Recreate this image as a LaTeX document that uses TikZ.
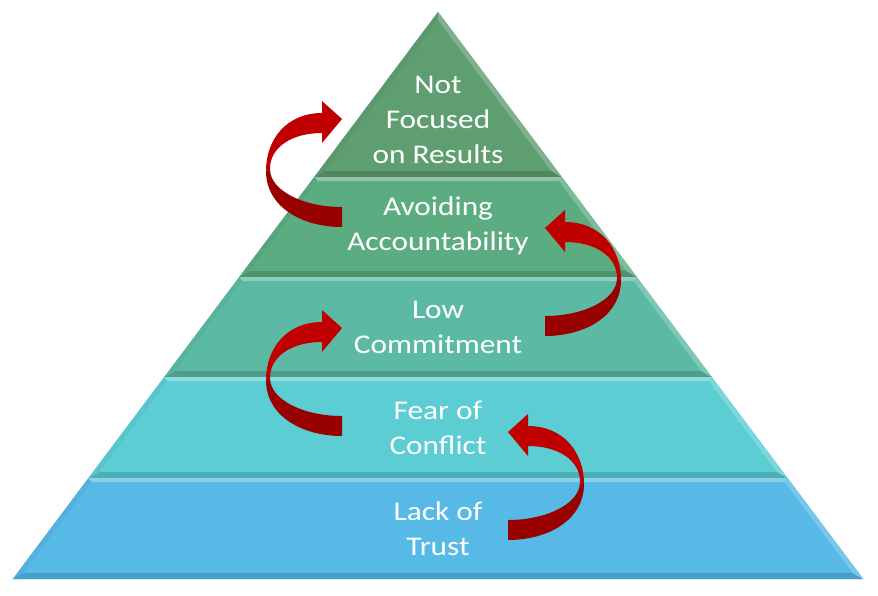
\documentclass[tikz,border=0pt]{standalone}
\usepackage{fontspec}
\setmainfont{Carlito}[FakeStretch=1.16]
\definecolor{tA}{RGB}{95,158,112}
\definecolor{tB}{RGB}{92,172,130}
\definecolor{tC}{RGB}{92,186,164}
\definecolor{tD}{RGB}{91,205,211}
\definecolor{tE}{RGB}{87,185,230}
\definecolor{arrUp}{RGB}{192,0,0}
\definecolor{arrDn}{RGB}{153,0,0}
\newcommand\pyrtier[4]{%
 \pgfmathsetmacro\pa{438-0.75*(#1-12)}%
 \pgfmathsetmacro\pb{438+0.75*(#1-12)}%
 \pgfmathsetmacro\pc{438-0.75*(#2-12)}%
 \pgfmathsetmacro\pd{438+0.75*(#2-12)}%
 \pgfmathsetmacro\qt{#4}%
 \pgfmathsetmacro\qb{#2-6}%
 \pgfmathsetmacro\qa{438-0.75*(\qt-12)+6}%
 \pgfmathsetmacro\qbb{438+0.75*(\qt-12)-6}%
 \pgfmathsetmacro\qc{438-0.75*(\qb-12)+6}%
 \pgfmathsetmacro\qd{438+0.75*(\qb-12)-6}%
 \fill[#3] (\pa,#1) -- (\pb,#1) -- (\pd,#2) -- (\pc,#2) -- cycle;
 \fill[#3!70!white] (\pa,#1) -- (\pb,#1) -- (\qbb,\qt) -- (\qa,\qt) -- cycle;
 \fill[#3!85!black] (\pc,#2) -- (\pd,#2) -- (\qd,\qb) -- (\qc,\qb) -- cycle;
 \fill[#3!96!black] (\pa,#1) -- (\qa,\qt) -- (\qc,\qb) -- (\pc,#2) -- cycle;
 \fill[#3!80!white] (\pb,#1) -- (\qbb,\qt) -- (\qd,\qb) -- (\pd,#2) -- cycle;
}
\newcommand\redarrow{%
 \fill[arrDn] (-76,52) .. controls (-76,88) and (-40,108) .. (0,108) -- (0,88) .. controls (-38,88) and (-72,72) .. (-72,50) -- cycle;
 \fill[arrUp] (0,0) -- (-20,-18) -- (-20,-6) .. controls (-55,-6) and (-76,20) .. (-76,52) -- (-72,50) .. controls (-72,28) and (-50,14) .. (-20,14) -- (-20,24) -- cycle;
}
\tikzset{tx/.style={text=white, align=center, inner sep=0pt, font=\fontsize{27}{35}\selectfont}}
\begin{document}
\begin{tikzpicture}[x=1pt,y=-1pt]
\useasboundingbox[fill=white] (0,0) rectangle (878,595);
\pyrtier{12}{177}{tA}{20}
\pyrtier{177}{277}{tB}{181}
\pyrtier{277}{377}{tC}{281}
\pyrtier{377}{478}{tD}{381}
\pyrtier{478}{579}{tE}{482}
\node[tx] (l1) at (438,120) {Not\\Focused\\on Results};
\node[tx] (l2) at (438,226) {Avoiding\\Accountability};
\node[tx] (l3) at (438,327) {Low\\Commitment};
\node[tx] (l4) at (438,428) {Fear of\\Conflict};
\node[tx] (l5) at (438,529) {Lack of\\Trust};
\begin{scope}[shift={(342,119)}] \redarrow \end{scope}
\begin{scope}[shift={(342,328)}] \redarrow \end{scope}
\begin{scope}[shift={(545,228)},xscale=-1] \redarrow \end{scope}
\begin{scope}[shift={(508,432)},xscale=-1] \redarrow \end{scope}
\end{tikzpicture}
\end{document}
